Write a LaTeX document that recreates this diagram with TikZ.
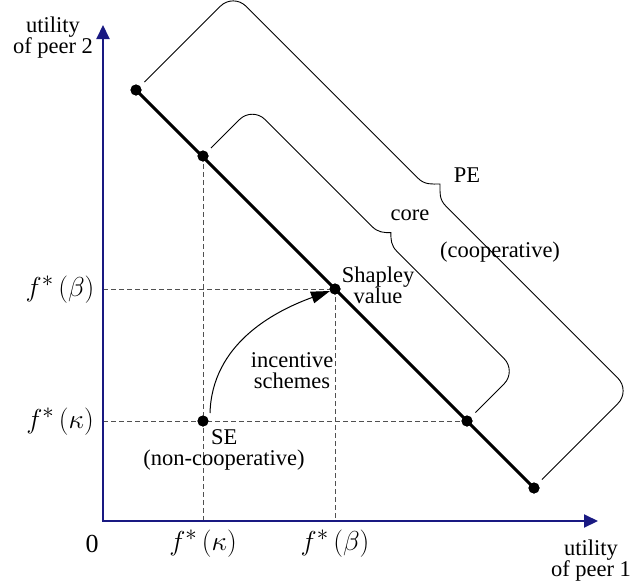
\documentclass[tikz,border=0pt]{standalone}
\usepackage{fontspec}
\setmainfont{Liberation Serif}
\usetikzlibrary{arrows.meta}
\definecolor{axisblue}{RGB}{25,25,130}
\definecolor{guidegray}{RGB}{80,80,80}
\begin{document}
\begin{tikzpicture}[x=1pt,y=-1pt,
  lbl/.style={font=\fontsize{22.5}{21}\selectfont, inner sep=0pt, align=center},
  mlbl/.style={font=\fontsize{24.88}{25}\selectfont, inner sep=0pt},
  axis/.style={line width=2pt, draw=axisblue, {Triangle[length=14pt,width=13pt,fill=axisblue]}-{Triangle[length=14pt,width=13pt,fill=axisblue]}},
  guide/.style={draw=guidegray, line width=0.9pt, dash pattern=on 5pt off 3pt},
  dot/.style={circle, fill=black, inner sep=0pt, minimum size=11pt},
  bracepath/.style={draw=black, line width=0.9pt},
  segment/.style={line width=3pt, draw=black}
]
\useasboundingbox (0,0) rectangle (631,584);

% axes
\coordinate (O) at (103,521);
\coordinate (Ytop) at (103,25);
\coordinate (Xend) at (598,521);

% points on the line
\node[dot] (P1) at (136,90) {};
\node[dot] (P2) at (203,156) {};
\node[dot] (S) at (335,289) {};
\node[dot] (P4) at (467,421) {};
\node[dot] (P5) at (534,488) {};
\node[dot] (SE) at (203,421) {};

% guides
\draw[guide] (O |- S.center) -- (S.center) -- (S.center |- O);
\draw[guide] (O |- SE.center) -- (P4.center);
\draw[guide] (P2.center) -- (P2.center |- O);

\draw[axis] (Ytop) -- (O) -- (Xend);

\draw[segment] (P1.center) -- (P5.center);

% dots redrawn on top
\foreach \p in {P1,P2,S,P4,P5,SE} \fill (\p.center) circle[radius=5.5pt];

% PE brace
\coordinate (Mpe) at (335,289);
\begin{scope}[shift={(Mpe)}, x={(0.7071pt,-0.7071pt)}, y={(0.7071pt,0.7071pt)}]
\draw[bracepath] (-281,11.5) -- (-281,119) arc[start angle=180,end angle=90,radius=18]
  -- (-20,137) .. controls (-10,137) and (-6,142.5) .. (0,148.5)
  .. controls (6,142.5) and (10,137) .. (20,137)
  -- (263,137) arc[start angle=90,end angle=0,radius=18] -- (281,11.5);
\end{scope}

% core brace
\coordinate (Mcore) at (335,288.5);
\begin{scope}[shift={(Mcore)}, x={(0.7071pt,-0.7071pt)}, y={(0.7071pt,0.7071pt)}]
\draw[bracepath] (-187,11.5) -- (-187,52) arc[start angle=180,end angle=90,radius=18]
  -- (-18,70) .. controls (-9,70) and (-5,74) .. (0,79)
  .. controls (5,74) and (9,70) .. (18,70)
  -- (169,70) arc[start angle=90,end angle=0,radius=18] -- (187,11.5);
\end{scope}

% incentive arrow
\coordinate (arrS) at (210,413);
\coordinate (arrE) at (330,291);
\draw[line width=1pt, -{Triangle[length=19pt,width=12pt]}] (arrS) .. controls (212,345) and (272,312) .. (arrE);

% labels
\node[lbl] (ylab) at (53,38) {utility\\of peer 2};
\node[lbl] (xlab) at (591,561) {utility\\of peer 1};
\node[lbl, font=\fontsize{26}{26}\selectfont] (zero) at (92,544) {0};
\node[mlbl] (xk) at (203,544) {\scalebox{1.1}{$f^{*}\,(\kappa)$}};
\node[mlbl] (xb) at (335,544) {\scalebox{1.1}{$f^{*}\,(\beta)$}};
\node[mlbl] (yb) at (60,290) {\scalebox{1.1}{$f^{*}\,(\beta)$}};
\node[mlbl] (yk) at (60,422) {\scalebox{1.1}{$f^{*}\,(\kappa)$}};
\node[lbl] (pe) at (467,175) {PE};
\node[lbl] (corelbl) at (410,215) {core};
\node[lbl] (coop) at (500,252) {(cooperative)};
\node[lbl] (shap) at (378,285) {Shapley\\value};
\node[lbl] (inc) at (292,371) {incentive\\schemes};
\node[lbl, anchor=west] (selbl) at (211,437) {SE};
\node[lbl] (nonc) at (224,460) {(non-cooperative)};
\end{tikzpicture}
\end{document}
